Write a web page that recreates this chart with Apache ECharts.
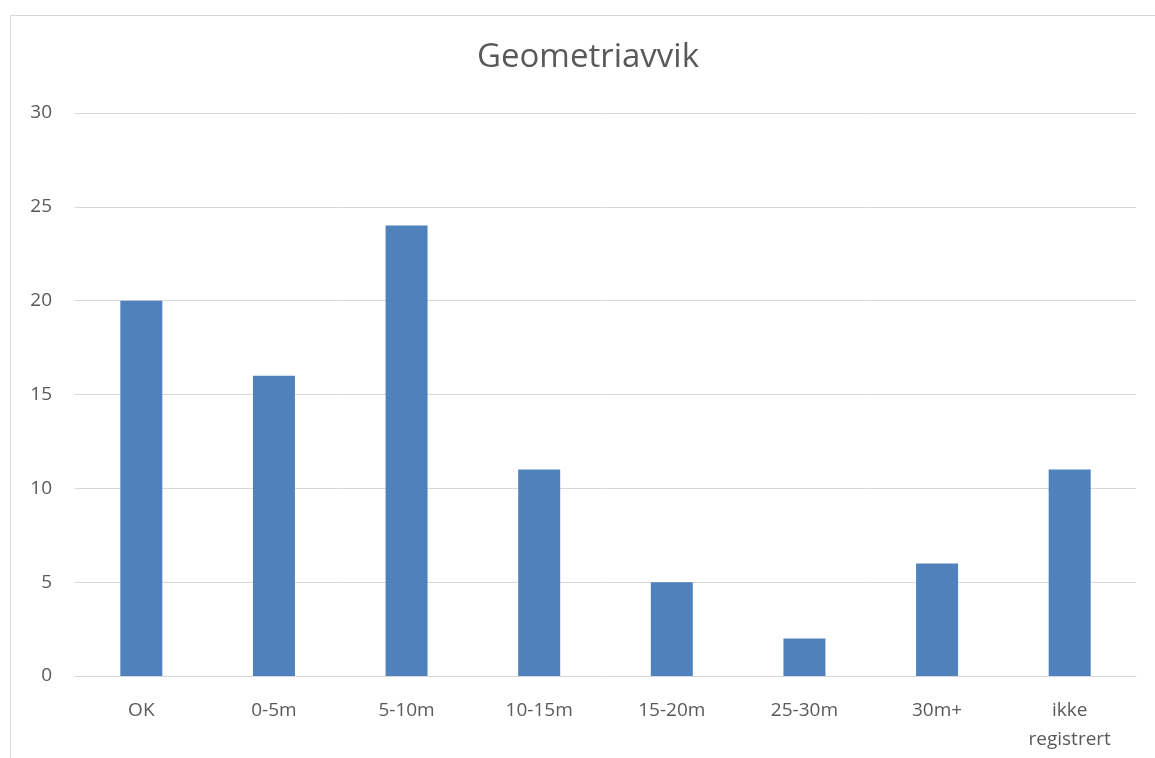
<!DOCTYPE html>
<html lang="nb">
<head>
    <meta charset="UTF-8">
    <title>Geometriavvik</title>
    <script src="https://cdn.jsdelivr.net/npm/echarts@6/dist/echarts.min.js"></script>
    <style>
        html, body { margin: 0; padding: 0; background: #fff; }
        #frame {
            position: absolute; left: 10px; top: 15px; width: 1160px; height: 760px;
            border-left: 1px solid #d9d9d9; border-top: 1px solid #d9d9d9;
        }
        #chart { position: absolute; left: 0; top: 0; width: 1155px; height: 758px; }
    </style>
</head>
<body>
<div id="frame"></div>
<div id="chart"></div>
<script>
    var categories = ['OK', '0-5m', '5-10m', '10-15m', '15-20m', '25-30m', '30m+', 'ikke\nregistrert'];
    var values = [20, 16, 24, 11, 5, 2, 6, 11];

    var mychart = echarts.init(document.getElementById('chart'));
    var fontFam = '"Open Sans", "Noto Sans", sans-serif';

    var option = {
        animation: false,
        title: {
            text: 'Geometriavvik',
            left: 472,
            top: 36,
            textStyle: { fontFamily: fontFam, fontSize: 33, fontWeight: 'normal', color: '#595959' }
        },
        grid: { left: 75, right: 19, top: 113, bottom: 82 },
        xAxis: {
            type: 'category',
            data: categories,
            axisLine: { lineStyle: { color: '#d9d9d9' } },
            axisTick: { show: false },
            axisLabel: { color: '#595959', fontFamily: fontFam, fontSize: 19, margin: 20, lineHeight: 29 }
        },
        yAxis: {
            type: 'value',
            min: 0,
            max: 30,
            interval: 5,
            axisLine: { show: false },
            axisTick: { show: false },
            splitLine: { lineStyle: { color: '#d9d9d9' } },
            axisLabel: { color: '#595959', fontFamily: fontFam, fontSize: 19, margin: 23 }
        },
        series: [{
            type: 'bar',
            data: values,
            barWidth: 42,
            itemStyle: { color: '#4f81bd' }
        }]
    };
    mychart.setOption(option);
</script>
</body>
</html>
